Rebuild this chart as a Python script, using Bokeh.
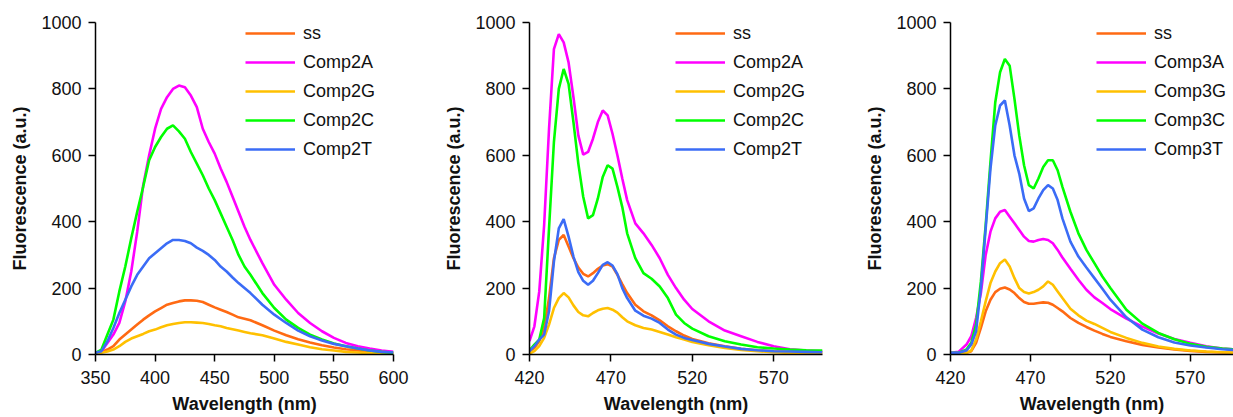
from bokeh.plotting import figure
from bokeh.models import Range1d, FixedTicker, Legend, LegendItem
from bokeh.layouts import row
from bokeh.embed import file_html
from bokeh.resources import INLINE

# ---------------- Panel 1 (broad emission, Comp2) ----------------
wl_1 = [350, 355, 360, 365, 370, 375, 380, 385, 390, 395, 400, 405, 410, 415, 420,
        425, 430, 435, 440, 445, 450, 455, 460, 465, 470, 475, 480, 490, 500, 510,
        520, 530, 540, 550, 560, 570, 580, 590, 600]
ss_1 = [3, 8, 15, 25, 45, 60, 75, 90, 105, 118, 130, 140, 150, 155, 160,
        163, 163, 162, 158, 150, 142, 135, 128, 120, 112, 108, 103, 88, 72, 58,
        46, 36, 28, 21, 16, 12, 9, 6, 4]
c2A_1 = [5, 10, 35, 60, 95, 160, 250, 370, 510, 600, 680, 740, 775, 800, 810,
         805, 780, 745, 680, 640, 605, 560, 520, 475, 430, 385, 345, 275, 210, 165,
         125, 95, 70, 50, 35, 25, 18, 12, 8]
c2G_1 = [2, 5, 9, 15, 25, 38, 48, 55, 62, 70, 75, 82, 88, 92, 95,
         97, 97, 96, 95, 92, 88, 85, 80, 76, 72, 68, 64, 58, 48, 38,
         30, 22, 16, 12, 8, 6, 4, 3, 2]
c2C_1 = [5, 15, 60, 105, 190, 265, 350, 430, 505, 585, 625, 655, 680, 690, 672,
         650, 610, 575, 540, 500, 465, 425, 385, 345, 300, 265, 240, 185, 140, 105,
         80, 60, 45, 33, 25, 18, 12, 8, 5]
c2T_1 = [5, 10, 40, 80, 125, 165, 205, 240, 265, 290, 305, 320, 335, 345, 345,
         342, 335, 322, 312, 300, 285, 265, 250, 232, 215, 200, 185, 150, 120, 95,
         72, 55, 42, 32, 25, 18, 12, 8, 6]
labels_1 = ["ss", "Comp2A", "Comp2G", "Comp2C", "Comp2T"]

# ---------------- Panel 2 (structured emission, Comp2) ----------------
wl_2 = [420, 423, 426, 429, 432, 435, 438, 441, 444, 447, 450, 453, 456, 459, 462,
        465, 468, 471, 474, 477, 480, 485, 490, 495, 500, 505, 510, 515, 520, 530,
        540, 550, 560, 570, 580, 590, 600]
ss_2 = [8, 20, 40, 80, 170, 290, 345, 360, 325, 290, 262, 243, 235, 245, 258,
        268, 272, 265, 240, 212, 185, 150, 130, 118, 103, 85, 70, 57, 47, 34,
        25, 17, 13, 10, 8, 7, 6]
c2A_2 = [40, 85, 190, 390, 680, 920, 965, 940, 880, 775, 660, 602, 610, 650, 700,
         735, 720, 665, 600, 530, 465, 395, 365, 330, 290, 240, 200, 165, 137, 100,
         72, 55, 38, 25, 16, 12, 10]
c2G_2 = [3, 10, 25, 50, 90, 140, 170, 185, 172, 148, 128, 118, 115, 125, 133,
         138, 140, 135, 126, 112, 100, 88, 80, 75, 68, 60, 52, 45, 38, 28,
         20, 14, 10, 7, 5, 4, 3]
c2C_2 = [12, 30, 45, 110, 380, 640, 800, 860, 815, 700, 575, 475, 410, 420, 470,
         535, 570, 560, 505, 444, 365, 290, 245, 228, 205, 170, 120, 95, 78, 55,
         40, 30, 22, 18, 15, 13, 12]
c2T_2 = [10, 25, 45, 60, 130, 280, 380, 408, 355, 295, 248, 222, 210, 222, 245,
         270, 278, 268, 242, 200, 170, 132, 117, 108, 95, 75, 60, 50, 44, 32,
         24, 17, 13, 10, 9, 8, 7]
labels_2 = ["ss", "Comp2A", "Comp2G", "Comp2C", "Comp2T"]

# ---------------- Panel 3 (structured emission, Comp3) ----------------
wl_3 = [420, 425, 430, 433, 436, 439, 442, 445, 448, 451, 454, 457, 460, 463, 466,
        469, 472, 475, 478, 481, 484, 487, 490, 495, 500, 505, 510, 515, 520, 530,
        540, 550, 560, 570, 580, 590, 600]
ss_3 = [3, 3, 5, 10, 35, 80, 130, 165, 188, 198, 202, 196, 185, 170, 158,
        153, 153, 155, 157, 156, 150, 140, 130, 110, 95, 83, 72, 62, 53, 40,
        29, 21, 15, 11, 8, 6, 5]
c3A_3 = [5, 8, 30, 55, 110, 185, 300, 370, 410, 430, 435, 415, 395, 375, 355,
         342, 340, 345, 348, 345, 335, 315, 292, 258, 225, 195, 172, 155, 137, 108,
         84, 63, 47, 35, 25, 18, 14]
c3G_3 = [3, 3, 5, 12, 45, 100, 160, 215, 250, 275, 286, 265, 230, 200, 188,
         184, 188, 195, 205, 220, 210, 190, 170, 138, 118, 102, 92, 80, 68, 50,
         35, 24, 17, 12, 9, 7, 5]
c3C_3 = [5, 5, 15, 35, 90, 220, 390, 580, 760, 850, 890, 870, 770, 660, 570,
         510, 500, 530, 565, 585, 585, 555, 505, 430, 365, 315, 275, 235, 200, 135,
         93, 65, 46, 32, 23, 18, 14]
c3T_3 = [5, 5, 12, 30, 70, 200, 380, 560, 690, 750, 765, 690, 600, 545, 470,
         432, 440, 470, 495, 510, 500, 465, 410, 340, 295, 262, 230, 198, 165, 112,
         75, 52, 36, 27, 21, 16, 13]
labels_3 = ["ss", "Comp3A", "Comp3G", "Comp3C", "Comp3T"]

colors = ["#FF6A13", "#FF00FF", "#FFC000", "#00FF00", "#3B6CF6"]

y_ticks = [0, 200, 400, 600, 800, 1000]
FONT = "Liberation Sans"
FRAME_H = 332
LEG_H = 5 * 22 + 4 * 7


def make_panel(wl, series, labels, x_start, x_end, x_ticks, width, b_left, b_right, legend_dx):
    p = figure(width=width, height=417, output_backend="svg", toolbar_location=None,
               x_range=Range1d(x_start, x_end), y_range=Range1d(0, 1000),
               min_border_left=b_left, min_border_right=b_right,
               min_border_top=22, min_border_bottom=63)
    p.outline_line_color = None
    p.grid.visible = False
    p.background_fill_color = "white"
    p.border_fill_color = "white"

    items = []
    for vals, lab, col in zip(series, labels, colors):
        r = p.line(wl, vals, line_color=col, line_width=2.6)
        items.append(LegendItem(label=lab, renderers=[r]))

    leg = Legend(items=items, location=(legend_dx, FRAME_H - LEG_H),
                 glyph_width=50, glyph_height=22, label_height=22, spacing=7,
                 label_standoff=8, padding=0, margin=0,
                 border_line_alpha=0, background_fill_alpha=0,
                 label_text_font=FONT, label_text_font_size="18px",
                 label_text_color="#111111")
    p.add_layout(leg, "center")

    for ax in (p.xaxis[0], p.yaxis[0]):
        ax.axis_line_color = "black"
        ax.axis_line_width = 1.5
        ax.major_tick_line_color = "black"
        ax.major_tick_line_width = 1.5
        ax.major_tick_out = 7
        ax.major_tick_in = 0
        ax.minor_tick_line_color = None
        ax.major_label_text_font = FONT
        ax.major_label_text_font_size = "18px"
        ax.major_label_text_color = "#111111"
        ax.axis_label_text_font = FONT
        ax.axis_label_text_font_size = "18px"
        ax.axis_label_text_font_style = "bold"
        ax.axis_label_text_color = "#111111"

    p.xaxis.ticker = FixedTicker(ticks=x_ticks)
    p.yaxis.ticker = FixedTicker(ticks=y_ticks)
    p.xaxis.axis_label = "Wavelength (nm)"
    p.yaxis.axis_label = "Fluorescence (a.u.)"
    p.xaxis.major_label_standoff = 9
    p.xaxis.axis_label_standoff = 7
    p.yaxis.major_label_standoff = 7
    p.yaxis.axis_label_standoff = 8
    return p


p1 = make_panel(wl_1, [ss_1, c2A_1, c2G_1, c2C_1, c2T_1], labels_1,
                350, 600, [350, 400, 450, 500, 550, 600], 433, 95, 40, 150)
p2 = make_panel(wl_2, [ss_2, c2A_2, c2G_2, c2C_2, c2T_2], labels_2,
                420, 600, [420, 470, 520, 570], 429, 96, 40, 146)
p3 = make_panel(wl_3, [ss_3, c3A_3, c3G_3, c3C_3, c3T_3], labels_3,
                420, 597, [420, 470, 520, 570], 371, 85, 0, 146)

layout = row(p1, p2, p3)
open("out.html", "w").write(file_html(layout, INLINE))
